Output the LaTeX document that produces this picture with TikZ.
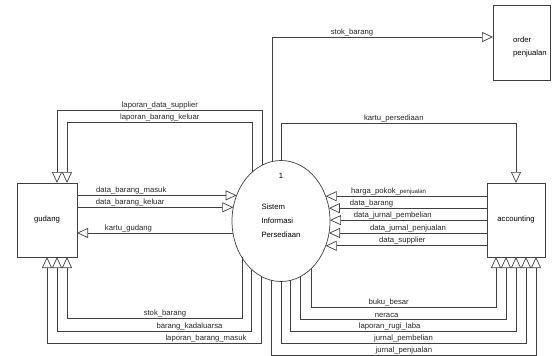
\documentclass[tikz,border=0pt]{standalone}
\usepackage{fontspec}
\setmainfont{Liberation Sans}
\usetikzlibrary{arrows.meta,shapes.geometric}

\begin{document}
\begin{tikzpicture}[x=1pt,y=-1pt,
    font=\fontsize{7.7}{9}\selectfont,
    box/.style={rectangle,draw=black!75,line width=0.7pt,inner sep=0pt,outer sep=0pt},
    flow/.style={draw=black!75,line width=0.7pt,-{Triangle[open,length=11pt,width=10pt]}},
    lbl/.style={above,inner sep=1pt,text=black!85}]
    \useasboundingbox (0,0) rectangle (558,356);
    % entitas dan proses
    \node[box,minimum width=60pt,minimum height=74pt] (gud) at (47,220) {gudang};
    \node[box,minimum width=57pt,minimum height=75pt] (ord) at (521.5,42.5) {};
    \node[box,minimum width=58pt,minimum height=74pt] (acc) at (516,220) {accounting};
    \node[ellipse,draw=black!75,line width=0.7pt,minimum width=98pt,minimum height=121pt,outer sep=0pt,
        align=left,font=\fontsize{7.7}{14}\selectfont] (sis) at (281,221) {Sistem\\Informasi\\Persediaan};
    \node (nomor) at ([yshift=-15pt]sis.north) {1};
    \node[align=left,anchor=west,inner sep=0pt,font=\fontsize{7.7}{13}\selectfont] (ordtxt)
        at ([xshift=20pt,yshift=-5pt]ord.west) {order\\penjualan};
    % gudang
    \draw[flow] (sis.108.8) |- (57,110) node[lbl,pos=0.75] {laporan\_data\_supplier} -- ([xshift=10]gud.north);
    \draw[flow] (sis.120.7) |- (67,122) node[lbl,pos=0.75] {laporan\_barang\_keluar} -- ([xshift=20]gud.north);
    \draw[flow] (gud.east |- sis.150.7) -- (sis.150.7) node[lbl,pos=0.34] {data\_barang\_masuk};
    \draw[flow] (gud.east |- sis.164.8) -- (sis.164.8) node[lbl,pos=0.34] {data\_barang\_keluar};
    \draw[flow] (sis.194) -- (gud.east |- sis.194) node[lbl,pos=0.67] {kartu\_gudang};
    \draw[flow] (sis.223.2) |- (67,318) node[lbl,pos=0.72] {stok\_barang} -- ([xshift=20]gud.south);
    \draw[flow] (sis.239.3) |- (57,331) node[lbl,pos=0.66] {barang\_kadaluarsa} -- ([xshift=10]gud.south);
    \draw[flow] (sis.251.2) |- (47,343) node[lbl,pos=0.63] {laporan\_barang\_masuk} -- (gud.south);
    % order penjualan
    \draw[flow] (sis.98.6) |- ([yshift=5.5]ord.west) node[lbl,pos=0.68] {stok\_barang};
    % accounting
    \draw[flow] (sis.north) |- ([yshift=60]acc.north) node[lbl,pos=0.74] {kartu\_persediaan} -- (acc.north);
    \draw[flow] (acc.west |- sis.29.3) -- (sis.29.3) node[lbl,pos=0.61] {harga\_pokok\_{\fontsize{6}{7}\selectfont penjualan}};
    \draw[flow] (acc.west |- sis.15.2) -- (sis.15.2) node[lbl,pos=0.73] {data\_barang};
    \draw[flow] (acc.west |- sis.1.2) -- (sis.1.2) node[lbl,pos=0.6] {data\_jurnal\_pembelian};
    \draw[flow] (acc.west |- sis.346) -- (sis.346) node[lbl,pos=0.5] {data\_jurnal\_penjualan};
    \draw[flow] (acc.west |- sis.331.9) -- (sis.331.9) node[lbl,pos=0.525] {data\_supplier};
    \draw[flow] (sis.302.1) |- (496,307) node[lbl,pos=0.71] {buku\_besar} -- ([xshift=-20]acc.south);
    \draw[flow] (sis.289.9) |- (506,319) node[lbl,pos=0.71] {neraca} -- ([xshift=-10]acc.south);
    \draw[flow] (sis.279.6) |- (516,331) node[lbl,pos=0.72] {laporan\_rugi\_laba} -- (acc.south);
    \draw[flow] (sis.south) |- (526,343) node[lbl,pos=0.75] {jurnal\_pembelian} -- ([xshift=10]acc.south);
    \draw[flow] (sis.261.4) |- (536,355) node[lbl,pos=0.75] {jurnal\_penjualan} -- ([xshift=20]acc.south);
\end{tikzpicture}
\end{document}
